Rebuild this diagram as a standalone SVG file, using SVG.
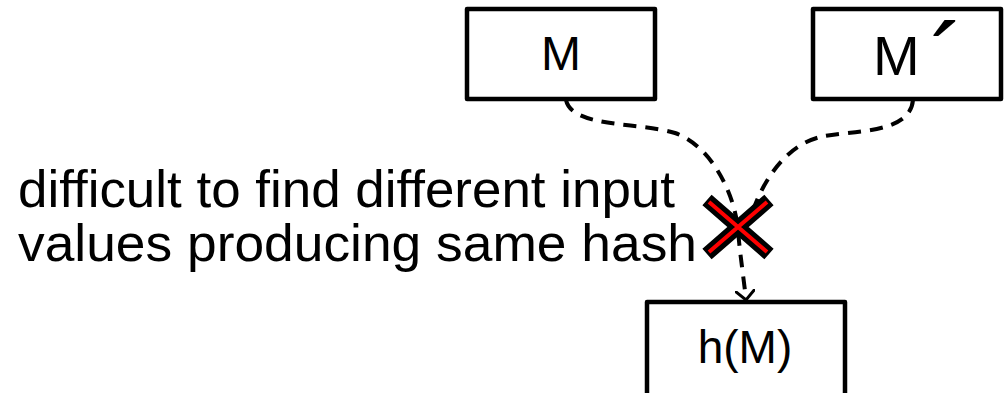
<svg xmlns="http://www.w3.org/2000/svg" width="1006" height="393" viewBox="0 0 1006 393">
<defs>
<style>
.box{fill:#fff;stroke:#000;stroke-width:4.5;stroke-linejoin:round}
.t{font-family:"Liberation Sans",Arial,sans-serif;fill:#000}
.dash{fill:none;stroke:#000;stroke-width:4;stroke-dasharray:13 9}
</style>
<marker id="arr" markerWidth="20" markerHeight="20" refX="10" refY="10" orient="auto" markerUnits="userSpaceOnUse">
<path d="M0,0 L10,10 L0,20" fill="none" stroke="#000" stroke-width="3"/>
</marker>
</defs>
<rect width="1006" height="393" fill="#fff"/>
<g id="connectors">
<path class="dash" d="M566,100 C572,128 640,122 675,133 C712,146 735,195 738,230 C740,255 744,280 746,300" marker-end="url(#arr)"/>
<path class="dash" d="M913,100 C910,135 850,130 820,137 C785,146 765,180 755,205 L740,228"/>
</g>
<g id="node-M">
<rect class="box" x="467" y="9" width="188" height="90"/>
<text class="t" x="561" y="70" font-size="48" text-anchor="middle">M</text>
</g>
<g id="node-M2">
<rect class="box" x="813" y="9" width="188" height="90"/>
<text class="t" x="873" y="75" font-size="56">M<tspan font-size="105" dx="10" dy="23">´</tspan></text>
</g>
<g id="node-hM">
<rect class="box" x="647" y="302" width="198" height="95"/>
<text class="t" x="745" y="363" font-size="46" text-anchor="middle">h(M)</text>
</g>
<g id="label">
<text class="t" x="18" y="207" font-size="52" textLength="657" lengthAdjust="spacingAndGlyphs">difficult to find different input</text>
<text class="t" x="18" y="261" font-size="52" textLength="679" lengthAdjust="spacingAndGlyphs">values producing same hash</text>
</g>
<g id="cross">
<path d="M707,200 L769,254 M707,254 L769,200" stroke="#000" stroke-width="14" fill="none"/>
<path d="M709,202 L767,252 M709,252 L767,202" stroke="#f00" stroke-width="4" fill="none"/>
</g>
</svg>
